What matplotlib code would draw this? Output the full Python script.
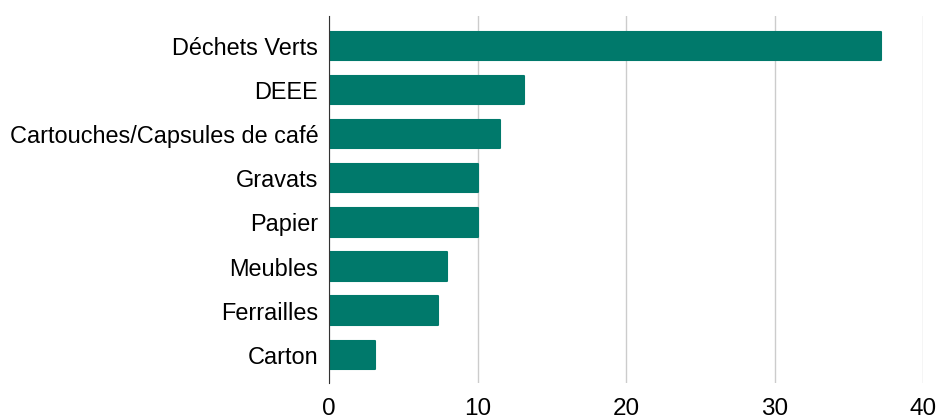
import matplotlib.pyplot as plt

# --- données ---
categories = ["Déchets Verts", "DEEE", "Cartouches/Capsules de café", "Gravats",
              "Papier", "Meubles", "Ferrailles", "Carton"]
valeurs = [37.2, 13.1, 11.5, 10.0, 10.0, 7.9, 7.3, 3.1]
x_ticks = [0, 10, 20, 30, 40]

plt.rcParams['font.family'] = ['Liberation Sans', 'DejaVu Sans']

fig = plt.figure(figsize=(9.38, 4.19), dpi=100)
ax = fig.add_axes([0.351, 0.086, 0.633, 0.876])

pos = list(range(len(categories)))
ax.barh(pos, valeurs, height=0.64, color='#00796b', zorder=3,
        edgecolor='#00796b', linewidth=1.5, joinstyle='round')

ax.set_yticks(pos)
ax.set_yticklabels(categories, fontsize=16.9)
ax.set_ylim(7.64, -0.68)
ax.set_xlim(0, 40)
ax.set_xticks(x_ticks)
ax.set_xticklabels([str(t) for t in x_ticks], fontsize=17.5)
ax.tick_params(axis='both', length=0)
ax.tick_params(axis='x', pad=10.5)
ax.tick_params(axis='y', pad=8)

ax.grid(axis='x', color='#cccccc', linewidth=1, zorder=0)
for s in ['top', 'right', 'bottom']:
    ax.spines[s].set_visible(False)
ax.spines['left'].set_color('#333333')
ax.spines['left'].set_zorder(4)

fig.savefig("out.png", dpi=100)
